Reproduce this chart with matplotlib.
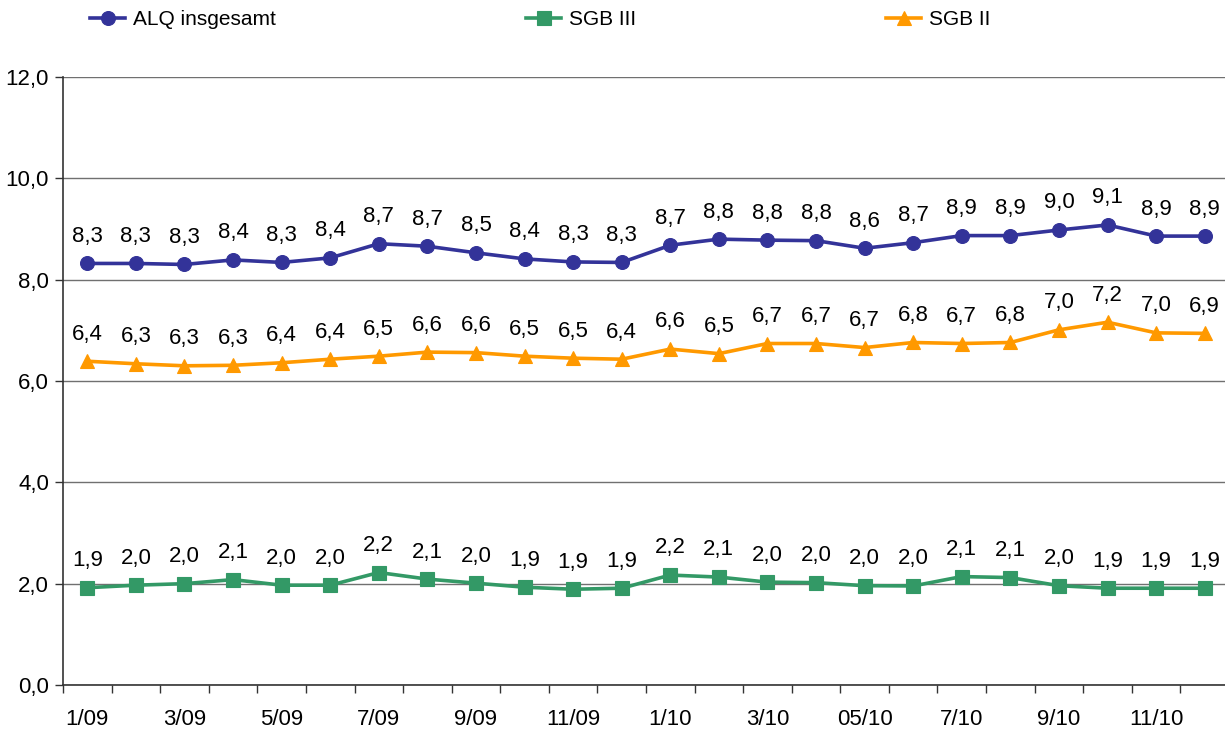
import matplotlib
matplotlib.use("Agg")
import matplotlib.pyplot as plt
from matplotlib.ticker import FixedLocator, FuncFormatter

plt.rcParams["font.family"] = ["Liberation Sans", "DejaVu Sans"]

months = ["1/09", "2/09", "3/09", "4/09", "5/09", "6/09", "7/09", "8/09",
          "9/09", "10/09", "11/09", "12/09", "1/10", "2/10", "3/10", "4/10",
          "05/10", "6/10", "7/10", "8/10", "9/10", "10/10", "11/10", "12/10"]

alq_total = [8.32, 8.32, 8.30, 8.39, 8.34, 8.43, 8.71, 8.66, 8.53, 8.41, 8.35, 8.34,
             8.68, 8.80, 8.78, 8.77, 8.62, 8.73, 8.87, 8.87, 8.98, 9.08, 8.86, 8.86]
sgb_iii = [1.92, 1.97, 2.00, 2.08, 1.97, 1.97, 2.22, 2.09, 2.01, 1.93, 1.89, 1.91,
           2.17, 2.13, 2.03, 2.02, 1.96, 1.955, 2.14, 2.12, 1.96, 1.91, 1.91, 1.91]
sgb_ii = [6.39, 6.34, 6.30, 6.31, 6.36, 6.43, 6.49, 6.57, 6.56, 6.49, 6.45, 6.43,
          6.63, 6.54, 6.74, 6.74, 6.66, 6.76, 6.74, 6.76, 7.01, 7.16, 6.95, 6.94]

series = [
    ("ALQ insgesamt", alq_total, "#333399", "o", 10),
    ("SGB III", sgb_iii, "#339966", "s", 9.5),
    ("SGB II", sgb_ii, "#FF9900", "^", 10),
]

FS = 16

fig = plt.figure(figsize=(12.25, 7.29), dpi=100)
ax = fig.add_axes([63 / 1225, 1 - 685 / 729, 1166 / 1225, (685 - 77) / 729])

x = list(range(len(months)))
handles = []
for name, vals, color, marker, ms in series:
    ln, = ax.plot(x, vals, color=color, lw=2.6, marker=marker, markersize=ms,
                  markeredgecolor=color, markeredgewidth=0.8, label=name, zorder=3,
                  clip_on=False)
    handles.append(ln)
    for xi, v in zip(x, vals):
        ax.annotate(f"{v:.1f}".replace(".", ","), (xi, v), xytext=(0, 19.5),
                    textcoords="offset points", ha="center", va="center",
                    fontsize=FS, color="black", zorder=4,
                    bbox=dict(boxstyle="square,pad=0.12", fc="white", ec="none"))

ax.set_xlim(-0.5, len(months) - 0.5)
ax.set_ylim(0, 12)

ax.yaxis.set_major_locator(FixedLocator([0, 2, 4, 6, 8, 10, 12]))
ax.yaxis.set_major_formatter(FuncFormatter(lambda v, p: f"{v:.1f}".replace(".", ",")))
ax.grid(axis="y", color="#707070", lw=1.0, zorder=1)
ax.set_axisbelow(True)

ax.set_xticks(x[::2])
ax.set_xticklabels(months[::2])
ax.set_xticks([i - 0.5 for i in range(len(months) + 1)], minor=True)
ax.tick_params(axis="x", which="major", length=0, pad=17, labelsize=FS)
ax.tick_params(axis="x", which="minor", length=6, width=1, color="#333333", direction="out")
ax.tick_params(axis="y", length=6, width=1, color="#333333", direction="out",
               labelsize=FS, pad=4)

for side in ("top", "right"):
    ax.spines[side].set_visible(False)
for side in ("left", "bottom"):
    ax.spines[side].set_color("#333333")
    ax.spines[side].set_linewidth(1.2)

fig.legend(handles=handles, loc="upper left", bbox_to_anchor=(82 / 1225, 1 - 2 / 729),
           ncol=3, frameon=False, fontsize=15, handlelength=1.68, handletextpad=0.38,
           columnspacing=12.0, borderaxespad=0)

fig.savefig("out.png", dpi=100)
